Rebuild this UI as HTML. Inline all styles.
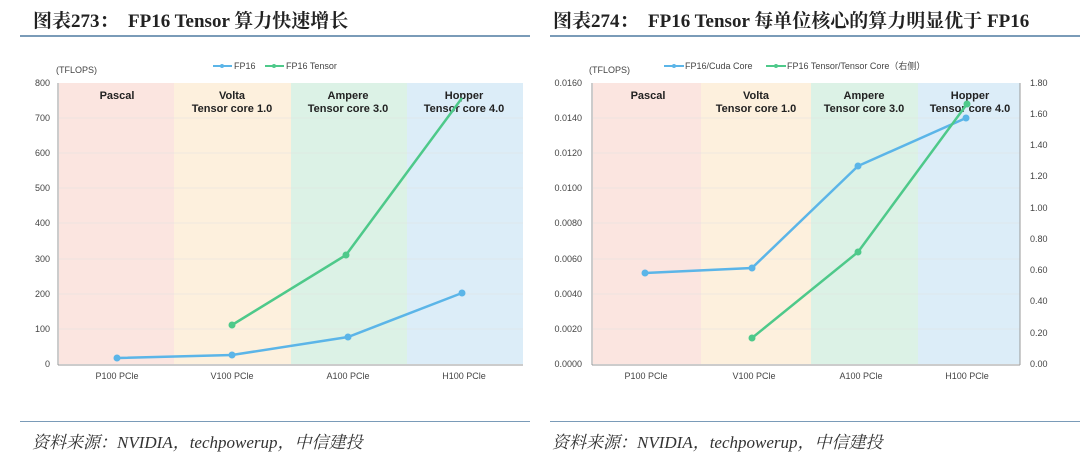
<!DOCTYPE html>
<html><head><meta charset="utf-8"><style>
body{margin:0;width:1080px;height:460px;background:#fff;overflow:hidden;font-family:"Liberation Sans",sans-serif}
.t{position:absolute;top:6px;font:bold 19px "Liberation Serif","Noto Serif CJK SC",serif;color:#222}
.s{position:absolute;top:428px;font:italic 17px "Liberation Serif","Noto Serif CJK SC",serif;color:#333}
.hl{position:absolute;height:2px;background:#7a9bb8}
</style></head><body>
<div class="t" style="left:33px">图表273：&nbsp; FP16 Tensor 算力快速增长</div>
<div class="t" style="left:553px">图表274：&nbsp; FP16 Tensor 每单位核心的算力明显优于 FP16</div>
<div class="hl" style="left:20px;width:510px;top:35px"></div>
<div class="hl" style="left:550px;width:530px;top:35px"></div>
<div class="hl" style="left:20px;width:510px;top:421px;height:1px"></div>
<div class="hl" style="left:550px;width:530px;top:421px;height:1px"></div>
<div class="s" style="left:32px">资料来源：NVIDIA，techpowerup，中信建投</div>
<div class="s" style="left:552px">资料来源：NVIDIA，techpowerup，中信建投</div>
<svg width="1080" height="460" style="position:absolute;left:0;top:0" font-family="Liberation Sans,Noto Sans CJK SC,sans-serif">
<g font-size="9" fill="#444">
<rect x="59" y="83" width="115" height="281" fill="#fbe5e0"/>
<rect x="174" y="83" width="117" height="281" fill="#fdf0dd"/>
<rect x="291" y="83" width="116" height="281" fill="#dcf2e6"/>
<rect x="407" y="83" width="116" height="281" fill="#dcedf8"/>
<g stroke="#e0e0e0" stroke-width="0.6">
<line x1="59" x2="523" y1="118" y2="118"/><line x1="59" x2="523" y1="153" y2="153"/><line x1="59" x2="523" y1="188" y2="188"/><line x1="59" x2="523" y1="223" y2="223"/><line x1="59" x2="523" y1="259" y2="259"/><line x1="59" x2="523" y1="294" y2="294"/><line x1="59" x2="523" y1="329" y2="329"/></g>
<line x1="58" y1="83" x2="58" y2="365" stroke="#999"/><line x1="58" y1="365" x2="523" y2="365" stroke="#999"/>
<g text-anchor="end"><text x="50" y="86">800</text><text x="50" y="121">700</text><text x="50" y="156">600</text><text x="50" y="191">500</text><text x="50" y="226">400</text><text x="50" y="262">300</text><text x="50" y="297">200</text><text x="50" y="332">100</text><text x="50" y="367">0</text></g>
<g text-anchor="middle"><text x="117" y="379">P100 PCle</text><text x="232" y="379">V100 PCle</text><text x="348" y="379">A100 PCle</text><text x="464" y="379">H100 PCle</text></g>
<text x="56" y="73">(TFLOPS)</text>
<g font-size="11" font-weight="bold" fill="#222" text-anchor="middle"><text x="117" y="99">Pascal</text><text x="232" y="99">Volta</text><text x="232" y="112">Tensor core 1.0</text><text x="348" y="99">Ampere</text><text x="348" y="112">Tensor core 3.0</text><text x="464" y="99">Hopper</text><text x="464" y="112">Tensor core 4.0</text></g>
<line x1="213" y1="66" x2="232" y2="66" stroke="#5bb5e8" stroke-width="2"/><circle cx="222" cy="66" r="2" fill="#5bb5e8"/><text x="234" y="69">FP16</text>
<line x1="265" y1="66" x2="284" y2="66" stroke="#4ec98a" stroke-width="2"/><circle cx="274" cy="66" r="2" fill="#4ec98a"/><text x="286" y="69">FP16 Tensor</text>
<polyline points="117,358 232,355 348,337 462,293" fill="none" stroke="#5bb5e8" stroke-width="2.5"/>
<g fill="#5bb5e8"><circle cx="117" cy="358" r="3.5"/><circle cx="232" cy="355" r="3.5"/><circle cx="348" cy="337" r="3.5"/><circle cx="462" cy="293" r="3.5"/></g>
<polyline points="232,325 346,255 462,98" fill="none" stroke="#4ec98a" stroke-width="2.5"/>
<g fill="#4ec98a"><circle cx="232" cy="325" r="3.5"/><circle cx="346" cy="255" r="3.5"/></g>

<rect x="593" y="83" width="108" height="281" fill="#fbe5e0"/>
<rect x="701" y="83" width="110" height="281" fill="#fdf0dd"/>
<rect x="811" y="83" width="107" height="281" fill="#dcf2e6"/>
<rect x="918" y="83" width="102" height="281" fill="#dcedf8"/>
<g stroke="#e0e0e0" stroke-width="0.6">
<line x1="593" x2="1020" y1="118" y2="118"/><line x1="593" x2="1020" y1="153" y2="153"/><line x1="593" x2="1020" y1="188" y2="188"/><line x1="593" x2="1020" y1="223" y2="223"/><line x1="593" x2="1020" y1="259" y2="259"/><line x1="593" x2="1020" y1="294" y2="294"/><line x1="593" x2="1020" y1="329" y2="329"/></g>
<line x1="592" y1="83" x2="592" y2="365" stroke="#999"/><line x1="1020" y1="83" x2="1020" y2="365" stroke="#999"/><line x1="592" y1="365" x2="1020" y2="365" stroke="#999"/>
<g text-anchor="end"><text x="582" y="86">0.0160</text><text x="582" y="121">0.0140</text><text x="582" y="156">0.0120</text><text x="582" y="191">0.0100</text><text x="582" y="226">0.0080</text><text x="582" y="262">0.0060</text><text x="582" y="297">0.0040</text><text x="582" y="332">0.0020</text><text x="582" y="367">0.0000</text></g>
<g><text x="1030" y="86">1.80</text><text x="1030" y="117">1.60</text><text x="1030" y="148">1.40</text><text x="1030" y="179">1.20</text><text x="1030" y="211">1.00</text><text x="1030" y="242">0.80</text><text x="1030" y="273">0.60</text><text x="1030" y="304">0.40</text><text x="1030" y="336">0.20</text><text x="1030" y="367">0.00</text></g>
<g text-anchor="middle"><text x="646" y="379">P100 PCle</text><text x="754" y="379">V100 PCle</text><text x="861" y="379">A100 PCle</text><text x="967" y="379">H100 PCle</text></g>
<text x="589" y="73">(TFLOPS)</text>
<g font-size="11" font-weight="bold" fill="#222" text-anchor="middle"><text x="648" y="99">Pascal</text><text x="756" y="99">Volta</text><text x="756" y="112">Tensor core 1.0</text><text x="864" y="99">Ampere</text><text x="864" y="112">Tensor core 3.0</text><text x="970" y="99">Hopper</text><text x="970" y="112">Tensor core 4.0</text></g>
<line x1="664" y1="66" x2="684" y2="66" stroke="#5bb5e8" stroke-width="2"/><circle cx="674" cy="66" r="2" fill="#5bb5e8"/><text x="685" y="69">FP16/Cuda Core</text>
<line x1="766" y1="66" x2="786" y2="66" stroke="#4ec98a" stroke-width="2"/><circle cx="776" cy="66" r="2" fill="#4ec98a"/><text x="787" y="69">FP16 Tensor/Tensor Core（右侧）</text>
<polyline points="645,273 752,268 858,166 966,118" fill="none" stroke="#5bb5e8" stroke-width="2.5"/>
<g fill="#5bb5e8"><circle cx="645" cy="273" r="3.5"/><circle cx="752" cy="268" r="3.5"/><circle cx="858" cy="166" r="3.5"/><circle cx="966" cy="118" r="3.5"/></g>
<polyline points="752,338 858,252 967,104" fill="none" stroke="#4ec98a" stroke-width="2.5"/>
<g fill="#4ec98a"><circle cx="752" cy="338" r="3.5"/><circle cx="858" cy="252" r="3.5"/><circle cx="967" cy="104" r="3.5"/></g>
</g></svg>
</body></html>
